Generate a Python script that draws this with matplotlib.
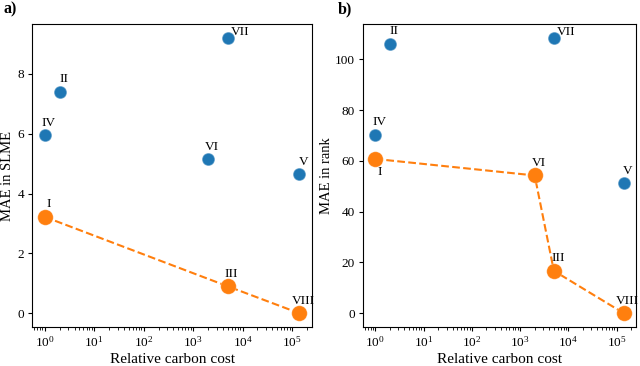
import matplotlib
matplotlib.use("Agg")
import matplotlib.pyplot as plt

plt.rcParams['font.family'] = ['Liberation Serif', 'DejaVu Serif']
plt.rcParams['mathtext.fontset'] = 'stix'

BLUE = '#1f77b4'
ORANGE = '#ff7f0e'

# Panel a: MAE in SLME
a_blue_labels = ['IV', 'II', 'VI', 'VII', 'V']
a_blue_x = [1, 2, 2000, 5000, 1.4e5]
a_blue_y = [5.95, 7.4, 5.15, 9.2, 4.65]
a_or_labels = ['I', 'III', 'VIII']
a_or_x = [1, 5000, 1.4e5]
a_or_y = [3.22, 0.9, 0.0]

# Panel b: MAE in rank
b_blue_labels = ['IV', 'II', 'VII', 'V']
b_blue_x = [1, 2, 5000, 1.4e5]
b_blue_y = [70.3, 106.3, 108.5, 51.3]
b_or_labels = ['I', 'VI', 'III', 'VIII']
b_or_x = [1, 2000, 5000, 1.4e5]
b_or_y = [60.8, 54.3, 16.7, 0.0]

# label offsets in pixels (styling)
PX = 0.72
default_off = (4, 12.5)
special_a = {'VII': (12.7, 6)}
special_b = {'VII': (12.7, 6), 'I': (4, -13)}

fig = plt.figure(figsize=(6.4, 3.66), dpi=100)
axa = fig.add_axes([0.05, 0.1066, 0.4375, 0.8274])
axb = fig.add_axes([0.567, 0.1066, 0.427, 0.8274])


def draw(ax, bx, by, blab, ox, oy, olab, special, ylabel, yticks, ylpad):
    ax.plot(ox, oy, linestyle='--', color=ORANGE, linewidth=1.5, zorder=1)
    ax.scatter(bx, by, s=85, color=BLUE, edgecolor=(1, 1, 1, 0.35), linewidth=1.0, zorder=2)
    ax.scatter(ox, oy, s=125, color=ORANGE, edgecolor=(1, 1, 1, 0.2), linewidth=0.8, zorder=3)
    for x, y, t in list(zip(bx, by, blab)) + list(zip(ox, oy, olab)):
        dx, dy = special.get(t, default_off)
        ax.annotate(t, (x, y), xytext=(dx * PX, dy * PX), textcoords='offset points',
                    ha='center', va='center', fontsize=9.5, zorder=4)
    ax.set_xscale('log')
    ax.set_xticks([1, 10, 100, 1e3, 1e4, 1e5])
    ax.set_yticks(yticks)
    ax.tick_params(labelsize=9.5, length=3.2, pad=2.4)
    ax.tick_params(which='minor', length=1.8)
    ax.set_xlabel('Relative carbon cost', fontsize=11, labelpad=2.5)
    ax.set_ylabel(ylabel, fontsize=10.5, labelpad=ylpad)


draw(axa, a_blue_x, a_blue_y, a_blue_labels, a_or_x, a_or_y, a_or_labels, special_a,
     'MAE in SLME', [0, 2, 4, 6, 8], 2.5)
draw(axb, b_blue_x, b_blue_y, b_blue_labels, b_or_x, b_or_y, b_or_labels, special_b,
     'MAE in rank', [0, 20, 40, 60, 80, 100], 1.5)

fig.text(0.005, 0.975, 'a)', fontsize=11.5, fontweight='bold', va='center', ha='left')
fig.text(0.527, 0.975, 'b)', fontsize=11.5, fontweight='bold', va='center', ha='left')

fig.savefig('out.png', dpi=100)
